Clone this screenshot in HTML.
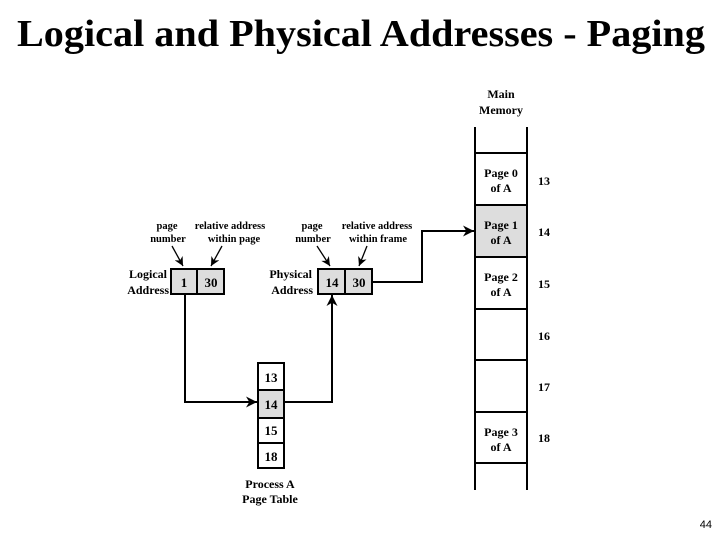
<!DOCTYPE html>
<html><head><style>body{margin:0;background:#fff}svg{display:block}</style></head><body>
<svg width="720" height="540" viewBox="0 0 720 540" xmlns="http://www.w3.org/2000/svg" font-family="Liberation Serif, serif" font-weight="bold">
<defs><marker id="a" viewBox="0 0 10 10" refX="10" refY="5" markerWidth="9" markerHeight="9" orient="auto" markerUnits="userSpaceOnUse"><path d="M0,0 L10,5 L0,10 L3,5z" fill="#000"/></marker>
<marker id="b" viewBox="0 0 10 10" refX="10" refY="5" markerWidth="15" markerHeight="11" orient="auto" markerUnits="userSpaceOnUse"><path d="M0,0 L10,5 L0,10 L3,5z" fill="#000"/></marker></defs>
<text x="17" y="46" font-size="38" textLength="688" lengthAdjust="spacingAndGlyphs">Logical and Physical Addresses - Paging</text>
<g font-size="12" text-anchor="middle">
<text x="501" y="98">Main</text><text x="501" y="114">Memory</text></g>
<rect x="475" y="205" width="52" height="52" fill="#ddd"/>
<g stroke="#000" stroke-width="2" fill="none">
<line x1="475" y1="127" x2="475" y2="490"/><line x1="527" y1="127" x2="527" y2="490"/>
<line x1="475" y1="153" x2="527" y2="153"/><line x1="475" y1="205" x2="527" y2="205"/>
<line x1="475" y1="257" x2="527" y2="257"/><line x1="475" y1="309" x2="527" y2="309"/>
<line x1="475" y1="360" x2="527" y2="360"/><line x1="475" y1="412" x2="527" y2="412"/>
<line x1="475" y1="463" x2="527" y2="463"/>
</g>
<g font-size="12" text-anchor="middle">
<text x="501" y="177">Page 0</text><text x="501" y="192">of A</text>
<text x="501" y="229">Page 1</text><text x="501" y="244">of A</text>
<text x="501" y="281">Page 2</text><text x="501" y="296">of A</text>
<text x="501" y="436">Page 3</text><text x="501" y="451">of A</text>
<text x="544" y="185">13</text><text x="544" y="236">14</text><text x="544" y="288">15</text>
<text x="544" y="340">16</text><text x="544" y="391">17</text><text x="544" y="442">18</text>
</g>
<rect x="171" y="269" width="53" height="25" fill="#ddd" stroke="#000" stroke-width="2"/>
<line x1="197" y1="269" x2="197" y2="294" stroke="#000" stroke-width="2"/>
<rect x="318" y="269" width="54" height="25" fill="#ddd" stroke="#000" stroke-width="2"/>
<line x1="345" y1="269" x2="345" y2="294" stroke="#000" stroke-width="2"/>
<g font-size="13" text-anchor="middle">
<text x="184" y="287">1</text><text x="211" y="287">30</text>
<text x="332" y="287">14</text><text x="359" y="287">30</text></g>
<g font-size="12" text-anchor="end">
<text x="167" y="278">Logical</text><text x="169" y="294">Address</text>
<text x="312" y="278">Physical</text><text x="313" y="294">Address</text></g>
<g font-size="10.5" text-anchor="middle">
<text x="167" y="229">page</text><text x="168" y="242">number</text>
<text x="230" y="229">relative address</text><text x="234" y="242">within page</text>
<text x="312" y="229">page</text><text x="313" y="242">number</text>
<text x="377" y="229">relative address</text><text x="378" y="242">within frame</text></g>
<g stroke="#000" stroke-width="1.3" fill="none">
<line x1="172" y1="246" x2="183" y2="266" marker-end="url(#a)"/>
<line x1="222" y1="246" x2="211" y2="266" marker-end="url(#a)"/>
<line x1="317" y1="246" x2="330" y2="266" marker-end="url(#a)"/>
<line x1="367" y1="246" x2="359" y2="266" marker-end="url(#a)"/>
</g>
<g stroke="#000" stroke-width="2" fill="none">
<polyline points="372,282 422,282 422,231 474,231" marker-end="url(#b)"/>
<polyline points="185,294 185,402 257,402" marker-end="url(#b)"/>
<polyline points="284,402 332,402 332,295" marker-end="url(#b)"/>
</g>
<rect x="258" y="390" width="26" height="28" fill="#ddd"/>
<g stroke="#000" stroke-width="2" fill="none">
<rect x="258" y="363" width="26" height="105"/>
<line x1="258" y1="390" x2="284" y2="390"/><line x1="258" y1="418" x2="284" y2="418"/><line x1="258" y1="443" x2="284" y2="443"/>
</g>
<g font-size="13" text-anchor="middle">
<text x="271" y="382">13</text><text x="271" y="409">14</text><text x="271" y="435">15</text><text x="271" y="461">18</text>
<text x="270" y="488" font-size="12">Process A</text><text x="270" y="503" font-size="12">Page Table</text></g>
<text x="712" y="528" font-family="Liberation Sans, sans-serif" font-weight="normal" font-size="11" text-anchor="end">44</text>
</svg>
</body></html>
